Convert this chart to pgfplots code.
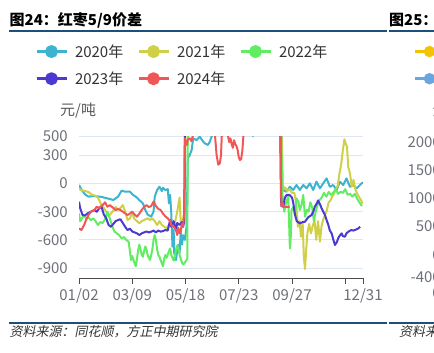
\documentclass[border=0pt]{standalone}
\usepackage{fontspec}
\usepackage{pgfplots}
\pgfplotsset{compat=1.18}
\setmainfont{Noto Sans CJK SC}
\newfontfamily\srcfont{Noto Sans CJK SC}[FakeSlant=0.2]
\definecolor{c20}{HTML}{3DB4CF}
\definecolor{c21}{HTML}{D0D048}
\definecolor{c22}{HTML}{62EC62}
\definecolor{c23}{HTML}{4A3AD0}
\definecolor{c24}{HTML}{F05858}
\definecolor{g25a}{HTML}{F3C300}
\definecolor{g25b}{HTML}{6AA5E0}
\definecolor{tickgray}{HTML}{6E7079}
\definecolor{gridgray}{HTML}{E0E6F1}
\definecolor{rule}{HTML}{1F4E79}
\newcommand{\fs}{\fontsize{15bp}{18bp}\selectfont}
\pgfplotsset{
  mystyle/.style={
    scale only axis,
    axis x line*=bottom, axis y line*=left,
    y axis line style={draw=none},
    x axis line style={draw=black!70, line width=1bp},
    tick align=outside,
    major tick length=5.5bp,
    xtick style={draw=black!70, line width=1bp},
    ytick style={draw=none},
    ymajorgrids,
    major grid style={draw=gridgray, line width=1bp},
    ticklabel style={font=\fs, text=tickgray},
    yticklabel style={anchor=east, inner sep=0pt, xshift=-5.5bp},
    xticklabel style={anchor=north, inner sep=0pt, yshift=-4bp},
    legend cell align=left,
    legend image code/.code={
      \draw[#1, line width=3bp] (0bp,0bp) -- (30bp,0bp);
      \fill[#1] (15bp,0bp) circle (5.5bp);
    },
  },
  yr/.style={line width=2bp, line join=round, no markers},
}
\begin{document}
\begin{tikzpicture}[x=1bp,y=1bp]
\begin{axis}[mystyle,
  at={(79bp,74.5bp)}, anchor=south west,
  width=284bp, height=142bp,
  xmin=0, xmax=240, ymin=-1010, ymax=500,
  xtick={0,45,90,135,180,225,240},
  xticklabels={01/02,03/09,05/18,07/23,09/27,,12/31},
  ytick={-900,-600,-300,0,300,500},
  yticklabels={-900,-600,-300,0,300,500},
  legend columns=3,
  legend style={draw=none, fill=none, at={(-0.1549,1.648)}, anchor=north west,
    inner sep=0pt, outer sep=0pt, row sep=13bp, font=\fs, text=black!80,
    nodes={inner sep=0pt, text width=55bp, align=left},
    /tikz/every odd column/.append style={column sep=7bp},
    /tikz/every even column/.append style={column sep=7bp}},
]
\addplot[yr, color=c20] coordinates {
(0,-16) (2,-62) (5,-115) (8,-140) (12,-133) (18,-140) (24,-158) (29,-175) (33,-140) (36,-76) (39,-87) (43,-87) (46,-124) (49,-150) (51,-176) (54,-211) (56,-282) (58,-330) (61,-353) (63,-300) (64,-140) (66,-69) (68,-34) (70,-80) (71,-45) (73,-70) (75,-60) (76,-211) (77,-120) (78,-317) (79,-672) (80,-495) (80.5,-743) (82,-814) (83,-707) (84,-650) (85,-740) (86,-500) (87,-650) (88,-550) (89.5,-600) (91,-450) (92,300) (93,285) (95.2,356) (96.5,480) (99.4,462) (102,498) (105,445) (106.4,427) (109,410) (110.6,445) (112,498) (113.4,530) (115,700) (146,700) (147,505) (148,700) (171,700) (172,-40) (172.6,-69) (175.4,-87) (178.2,-34) (181,-69) (183.8,-16) (186.6,-69) (189.5,-16) (192.3,-51) (195.1,2) (197.9,-69) (200.7,20) (203.6,-51) (206.4,2) (209.2,55) (212,-34) (214.8,-16) (217.7,-69) (220.5,20) (223.3,-16) (226.1,55) (228.9,-34) (231.8,-16) (234.6,-51) (237.4,-16) (238.8,2) (240,10)
};
\addlegendentry{2020年}
\addplot[yr, color=c21] coordinates {
(0,-60) (2,-69) (5,-80) (8,-90) (11,-120) (14,-130) (16,-150) (19,-229) (21,-260) (23,-300) (25,-350) (27,-317) (29,-290) (31,-250) (33,-280) (35,-260) (37,-229) (39,-300) (41,-388) (43,-370) (45,-317) (47,-380) (49,-400) (51,-424) (53,-400) (55,-388) (58,-370) (60,-388) (62,-370) (64,-400) (66,-441) (68,-400) (70,-440) (72,-459) (74,-477) (76,-440) (77,-424) (79,-460) (81,-420) (83,-300) (84,-220) (85,-150) (86,-420) (87,-470) (88,-380) (89,-300) (90,700) (171,700) (172,-60) (174,-40) (176,-80) (178,-60) (180,-100) (182,-100) (183.5,-200) (185,-459) (186.5,-400) (187.5,-565) (189,-420) (190,-780) (191,-910) (192,-700) (193,-530) (194.5,-430) (196,-530) (197.5,-450) (199,-388) (200.5,-600) (202,-400) (203.6,-619) (205,-450) (206.5,-380) (208,-330) (209.5,-282) (211,-200) (212.5,-180) (214,-140) (215.5,-110) (217,-60) (218.5,-30) (220,100) (221.5,200) (223,356) (224.3,470) (225.5,420) (226.5,390) (227.5,179) (229,108) (230.5,-34) (232,38) (233.5,-60) (235,-105) (236.5,-140) (238,-170) (240,-220)
};
\addlegendentry{2021年}
\addplot[yr, color=c22] coordinates {
(0,-317) (1,-400) (2,-380) (4,-340) (6,-370) (8,-360) (10,-390) (12,-370) (14,-400) (16,-441) (18,-410) (20,-420) (22,-380) (24,-300) (26,-370) (28,-450) (30,-512) (32,-530) (34,-550) (36,-583) (38,-570) (40,-600) (42,-620) (43,-720) (44,-814) (45,-770) (47,-850) (48,-880) (49,-800) (50,-707) (51,-650) (52,-700) (53,-760) (54,-779) (55,-720) (56,-670) (57,-700) (58,-760) (60,-814) (61,-760) (62,-700) (63,-600) (64,-548) (65,-600) (66,-700) (67,-760) (68,-779) (70,-850) (71,-880) (72,-800) (73,-760) (74,-790) (76,-720) (77,-690) (78,-760) (80,-820) (81,-780) (82,-700) (83,-660) (84,-690) (85,-760) (86,-800) (87,-840) (88,-860) (89,-850) (91.5,-800) (92,700) (170,700) (171,400) (172,-140) (173.5,-300) (175,-200) (176.8,-140) (177.5,-400) (178.2,-690) (179,-560) (179.6,-282) (181,-250) (182.5,-330) (183.8,-158) (185.5,-200) (186.6,-282) (188,-230) (189.5,-122) (191,-353) (192.5,-280) (194,-300) (195.5,-200) (197,-250) (198.5,-400) (200,-300) (201.5,-230) (203,-180) (205,-150) (207,-100) (209,-140) (211,-90) (213,-120) (215,-95) (217,-60) (219,-110) (221,-87) (223,-100) (225,-60) (227,-120) (229,-110) (231,-140) (233,-110) (235,-160) (237,-200) (239,-240)
};
\addlegendentry{2022年}
\addplot[yr, color=c23] coordinates {
(0,-193) (1,-263) (3,-335) (5,-340) (7,-320) (10,-300) (13,-282) (15,-300) (17,-264) (19,-246) (21,-330) (23,-370) (25,-441) (27,-460) (29,-430) (31,-400) (33,-388) (35,-380) (37,-420) (39,-460) (41,-495) (43,-480) (45,-510) (47,-520) (49,-530) (51,-548) (53,-530) (55,-520) (57,-510) (59,-520) (61,-512) (63,-500) (65,-520) (67,-500) (69,-512) (71,-505) (73,-495) (75,-500) (77,-388) (78,-460) (80,-400) (82,-500) (83,-420) (85,-440) (87,-410) (88,-460) (89,-400) (89.5,700) (170,700) (170.6,-104) (171,-238) (172.6,-246) (174,-150) (175.4,-122) (178,-122) (180,-150) (181,-200) (182.5,-330) (184,-400) (186.6,-424) (189,-410) (191,-406) (193.6,-360) (196.5,-335) (198,-300) (199.3,-246) (201,-211) (202,-180) (204,-230) (205,-264) (207.9,-335) (209,-380) (210.7,-441) (212,-500) (213.5,-530) (215,-600) (216.3,-654) (218,-620) (219,-583) (220,-560) (222,-530) (223,-560) (224.8,-565) (226,-530) (227.6,-512) (230,-495) (232,-500) (234,-490) (236.1,-477) (237.5,-459)
};
\addlegendentry{2023年}
\addplot[yr, color=c24] coordinates {
(0,-477) (2,-495) (4,-450) (6,-388) (8,-335) (10,-300) (13,-282) (15,-246) (17,-260) (20,-229) (22,-200) (24,-246) (26,-230) (29,-260) (31,-282) (33,-270) (35,-282) (37,-300) (39,-317) (41,-335) (43,-320) (45,-300) (47,-330) (49,-353) (51,-320) (53,-282) (55,-250) (57,-229) (59,-250) (61,-240) (63,-193) (65,-240) (67,-270) (69,-282) (71,-320) (73,-350) (75,-370) (77,-400) (78,-441) (80,-460) (82,-495) (83,-548) (84,-470) (85,-530) (86,-500) (87,-430) (88,-450) (89,-300) (89.5,481) (91,410) (92,470) (93.7,480) (95,450) (96.5,520) (97,700) (114,700) (115,500) (116.3,300) (117.7,200) (119,215) (120,300) (120.7,520) (121,700) (125,700) (126,500) (127,440) (128,480) (129,420) (130,380) (131,460) (132,420) (133,400) (134,360) (135,280) (136,250) (137,260) (138,340) (139,520) (140,700) (170,700) (170.3,480) (171,-240) (172,-200) (173,-247) (175,-250) (178,-247)
};
\addlegendentry{2024年}
\end{axis}
% cut-off neighbouring chart (图25), as in the reference
\begin{axis}[mystyle,
  at={(452bp,75.7bp)}, anchor=south west,
  width=200bp, height=135.6bp,
  xmin=0, xmax=1, ymin=-400, ymax=2000,
  xtick={0}, xticklabels={01/02},
  ytick={-400,0,500,1000,1500,2000},
  yticklabels={-400,0,500,1000,1500,2000},
  legend columns=1,
  legend style={draw=none, fill=none, at={(-0.195,1.7170)}, anchor=north west,
    inner sep=0pt, outer sep=0pt, row sep=13bp, font=\fs, text=black!80,
    nodes={inner sep=0pt, text width=55bp, align=left},
    /tikz/every odd column/.append style={column sep=7bp}},
]
\addlegendimage{color=g25a}
\addlegendentry{2023年}
\addlegendimage{color=g25b}
\addlegendentry{2024年}
\end{axis}
\node[anchor=west, inner sep=0pt, font=\fs\bfseries] at (9.5bp,333bp) {图24：红枣5/9价差};
\node[anchor=west, inner sep=0pt, font=\fs\bfseries] at (389bp,333bp) {图25：};
\draw[rule, line width=1.2bp] (9bp,322bp) -- (387bp,322bp);
\draw[rule, line width=1.2bp] (389bp,322bp) -- (434bp,322bp);
\draw[rule, line width=1.2bp] (9bp,30bp) -- (387bp,30bp);
\draw[rule, line width=1.2bp] (389bp,30bp) -- (434bp,30bp);
\node[anchor=west, inner sep=0pt, font=\fs, text=black!65] at (60bp,242bp) {元/吨};
\node[anchor=west, inner sep=0pt, font=\fs, text=black!65] at (432.5bp,242bp) {元/吨};
\node[anchor=west, inner sep=0pt, font=\fontsize{13bp}{15bp}\srcfont, text=black!80] at (9.5bp,21bp) {资料来源：同花顺，方正中期研究院};
\node[anchor=west, inner sep=0pt, font=\fontsize{13bp}{15bp}\srcfont, text=black!80] at (399bp,21bp) {资料来源：同花顺，方正中期研究院};
\pgfresetboundingbox
\path[use as bounding box] (0bp,0bp) rectangle (434bp,353bp);
\end{tikzpicture}
\end{document}
